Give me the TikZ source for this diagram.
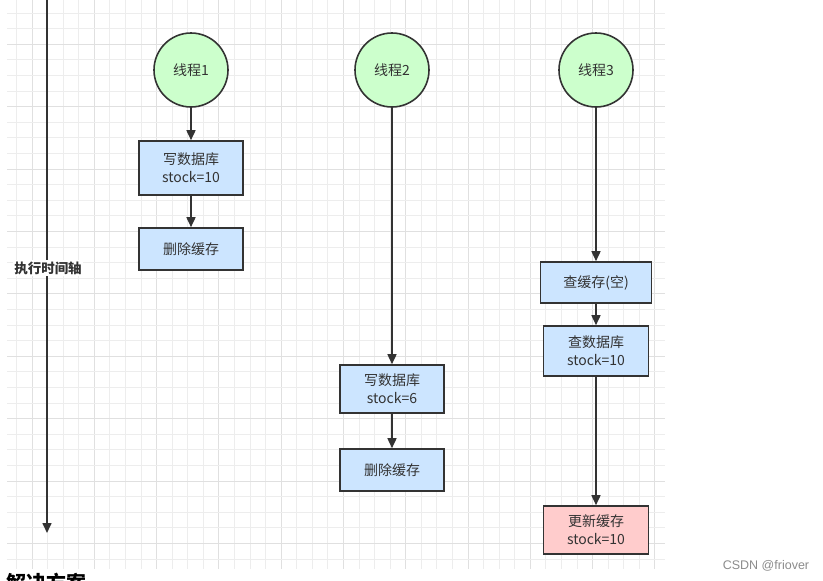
\documentclass[tikz,border=0pt]{standalone}
\usepackage{fontspec}
\setmainfont{Noto Sans CJK SC}
\newfontfamily\wmfont{Liberation Sans}
\usetikzlibrary{arrows.meta}
\definecolor{gridminor}{HTML}{EDEDED}
\definecolor{gridmajor}{HTML}{E0E0E0}
\definecolor{edge}{HTML}{333333}
\definecolor{thr}{HTML}{CCFFCC}
\definecolor{op}{HTML}{CCE5FF}
\definecolor{upd}{HTML}{FFCCCC}
\tikzset{
  thread/.style={circle, draw=edge, line width=1.6pt, fill=thr, minimum size=74pt, inner sep=0pt, text=edge, font=\fontsize{14}{16}\selectfont},
  opbox/.style={rectangle, draw=edge, line width=1.6pt, fill=op, minimum width=104pt, inner sep=0pt, align=center, text=edge, font=\fontsize{14}{18}\selectfont},
  conn/.style={draw=edge, line width=1.6pt, -{Triangle[length=10pt,width=9pt]}},
}
\begin{document}
\begin{tikzpicture}[x=1pt,y=-1pt]
\useasboundingbox (0,0) rectangle (823,581);
\fill[white] (0,0) rectangle (823,581);
% grid
\foreach \i in {0,...,41}{
  \pgfmathtruncatemacro{\m}{mod(\i,4)}
  \ifnum\m=1 \def\gc{gridmajor}\else\def\gc{gridminor}\fi
  \draw[\gc, line width=0.8pt] (16.4+15.57*\i,0) -- (16.4+15.57*\i,569);
}
\foreach \k in {0,...,35}{
  \pgfmathtruncatemacro{\m}{mod(\k,4)}
  \ifnum\m=2 \def\gc{gridmajor}\else\def\gc{gridminor}\fi
  \draw[\gc, line width=0.8pt] (7,13+15.6*\k) -- (665,13+15.6*\k);
}
% timeline
\coordinate (ts) at (47,0);
\coordinate (te) at (47,533);
\draw[conn] (ts) -- (te);
\node[fill=white, inner xsep=1pt, inner ysep=2pt, text=edge, font=\bfseries\fontsize{13.5}{16}\selectfont] (tl) at (48,268) {执行时间轴};
% thread 1
\node[thread] (t1) at (191,70) {线程1};
\node[opbox, minimum height=54pt] (b11) at (191,168) {写数据库\\stock=10};
\node[opbox, minimum height=42pt] (b12) at (191,249) {删除缓存};
\draw[conn] (t1) -- (b11);
\draw[conn] (b11) -- (b12);
% thread 2
\node[thread] (t2) at (392,70) {线程2};
\node[opbox, minimum height=48pt] (b21) at (392,389) {写数据库\\stock=6};
\node[opbox, minimum height=42pt] (b22) at (392,470) {删除缓存};
\draw[conn] (t2) -- (b21);
\draw[conn] (b21) -- (b22);
% thread 3
\node[thread] (t3) at (596,70) {线程3};
\node[opbox, minimum width=111pt, minimum height=41pt] (b31) at (596,282.5) {查缓存(空)};
\node[opbox, minimum width=105pt, minimum height=50pt] (b32) at (596,351) {查数据库\\stock=10};
\node[opbox, fill=upd, minimum width=105pt, minimum height=48pt] (b33) at (596,530) {更新缓存\\stock=10};
\draw[conn] (t3) -- (b31);
\draw[conn] (b31) -- (b32);
\draw[conn] (b32) -- (b33);
% watermark and cut-off heading
\node[text=black!45, font=\wmfont\fontsize{12.5}{14}\selectfont] (wm) at (766,566) {CSDN @friover};
\node[anchor=north west, inner sep=0pt, font=\bfseries\fontsize{20}{22}\selectfont] (hd) at (6,573) {解决方案};
\end{tikzpicture}
\end{document}
